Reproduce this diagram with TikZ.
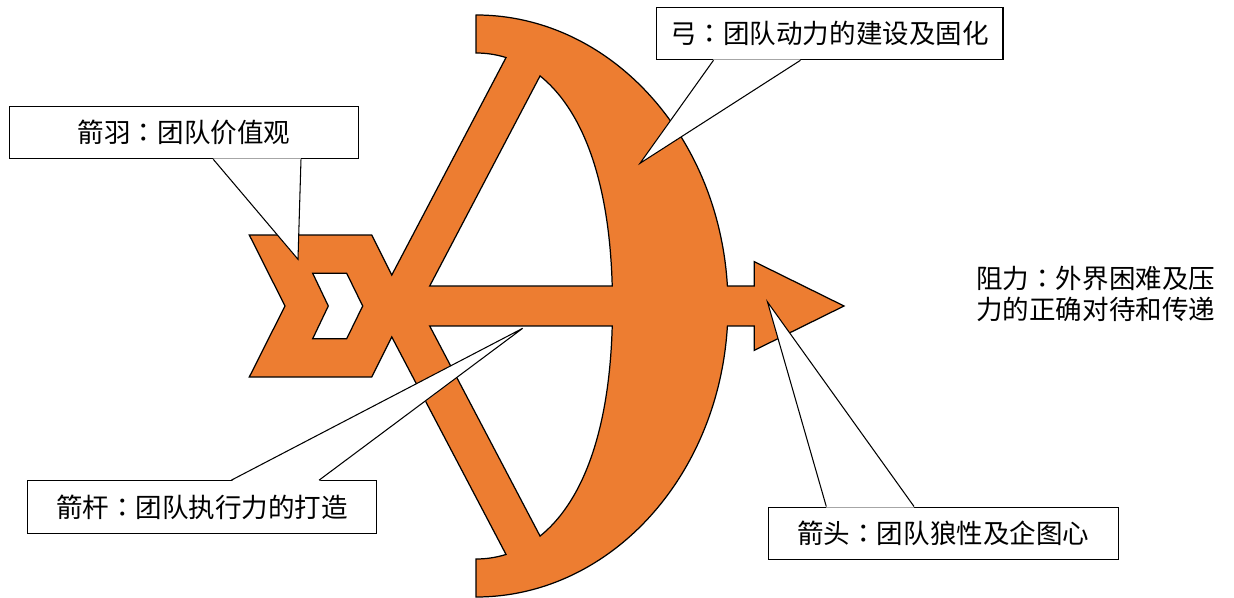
\documentclass[tikz,border=0pt]{standalone}
\usepackage{fontspec}
\setmainfont{Noto Sans CJK SC}
\newfontfamily\tcfont{Noto Sans CJK TC}
% full-width colon set in the middle of its cell
\newcommand\midcolon{{\tcfont ：}}
\usetikzlibrary{calc}

\definecolor{boworange}{HTML}{ED7D31}

\begin{document}
\begin{tikzpicture}[x=0.02cm, y=-0.02cm,
    bowline/.style={draw=black, line width=0.7pt},
    box/.style={draw, line width=0.6pt, fill=white, inner sep=0pt, minimum width=7cm, minimum height=1.05cm},
    wedge/.style={line width=0.6pt},
    every node/.style={font=\fontsize{15.1pt}{17.6pt}\selectfont}]
\useasboundingbox (0,0) rectangle (1234,598);

% bow, string and arrow in one outline
\filldraw[bowline, fill=boworange] (476,15) -- (476,53)
    .. controls (486.15,53) and (496.23,54.47) .. (506.04,57.54)
    -- (391.75,275.1) -- (371.7,235) -- (249.3,235) -- (285,306) -- (249.3,377) -- (371.7,377)
    -- (391.75,336.9) -- (506.04,554.46)
    .. controls (496.23,557.53) and (486.15,559) .. (476,559)
    -- (476,597) arc[start angle=90, end angle=3.94, x radius=252, y radius=291]
    -- (754.3,326) -- (754.3,350.3) -- (844,306) -- (754.3,261.7) -- (754.3,286)
    -- (727.4,286) arc[start angle=-3.94, end angle=-90, x radius=252, y radius=291]
    -- cycle;
% holes between string, shaft and bow
\filldraw[bowline, fill=white] (540.06,75.91) .. controls (579.48,107.55) and (609.12,173.82) .. (612.23,286)
    -- (429.7,286) -- cycle;
\filldraw[bowline, fill=white] (540.06,536.09) .. controls (579.48,504.45) and (609.12,438.18) .. (612.23,326)
    -- (429.7,326) -- cycle;
% notch in the feathers
\filldraw[bowline, fill=white] (312.7,273.3) -- (346.7,273.3) -- (362.7,306) -- (346.7,338.7)
    -- (312.7,338.7) -- (328.3,306) -- cycle;

% callouts
\node[box] (yu) at (184,132.5) {箭羽\midcolon 团队价值观};
\node[box, minimum width=6.94cm] (gong) at (829.5,33.5) {弓\midcolon 团队动力的建设及固化};
\node[box] (gan) at (202,507) {箭杆\midcolon 团队执行力的打造};
\node[box] (tou) at (943.3,533.3) {箭头\midcolon 团队狼性及企图心};

\coordinate (yutip) at (298,259.3);
\coordinate (gongtip) at (640,163.3);
\coordinate (gantip) at (522.7,328.3);
\coordinate (toutip) at (767.5,302);

\fill[white] ($(yu.south west)!7/12!(yu.south east)+(0,-1)$) -- (yutip) -- ($(yu.south west)!10/12!(yu.south east)+(0,-1)$) -- cycle;
\draw[wedge] ($(yu.south west)!7/12!(yu.south east)$) -- (yutip) -- ($(yu.south west)!10/12!(yu.south east)$);

\fill[white] ($(gong.south west)!2/12!(gong.south east)+(0,-1)$) -- (gongtip) -- ($(gong.south west)!5/12!(gong.south east)+(0,-1)$) -- cycle;
\draw[wedge] ($(gong.south west)!2/12!(gong.south east)$) -- (gongtip) -- ($(gong.south west)!5/12!(gong.south east)$);

\fill[white] ($(gan.north west)!7/12!(gan.north east)+(0,1)$) -- (gantip) -- ($(gan.north west)!10/12!(gan.north east)+(0,1)$) -- cycle;
\draw[wedge] ($(gan.north west)!7/12!(gan.north east)$) -- (gantip) -- ($(gan.north west)!10/12!(gan.north east)$);

\fill[white] ($(tou.north west)!2/12!(tou.north east)+(0,1)$) -- (toutip) -- ($(tou.north west)!5/12!(tou.north east)+(0,1)$) -- cycle;
\draw[wedge] ($(tou.north west)!2/12!(tou.north east)$) -- (toutip) -- ($(tou.north west)!5/12!(tou.north east)$);

\node[anchor=west, align=left, inner sep=0pt] (zuli) at (976,293.5) {阻力\midcolon 外界困难及压\\力的正确对待和传递};
\end{tikzpicture}
\end{document}
